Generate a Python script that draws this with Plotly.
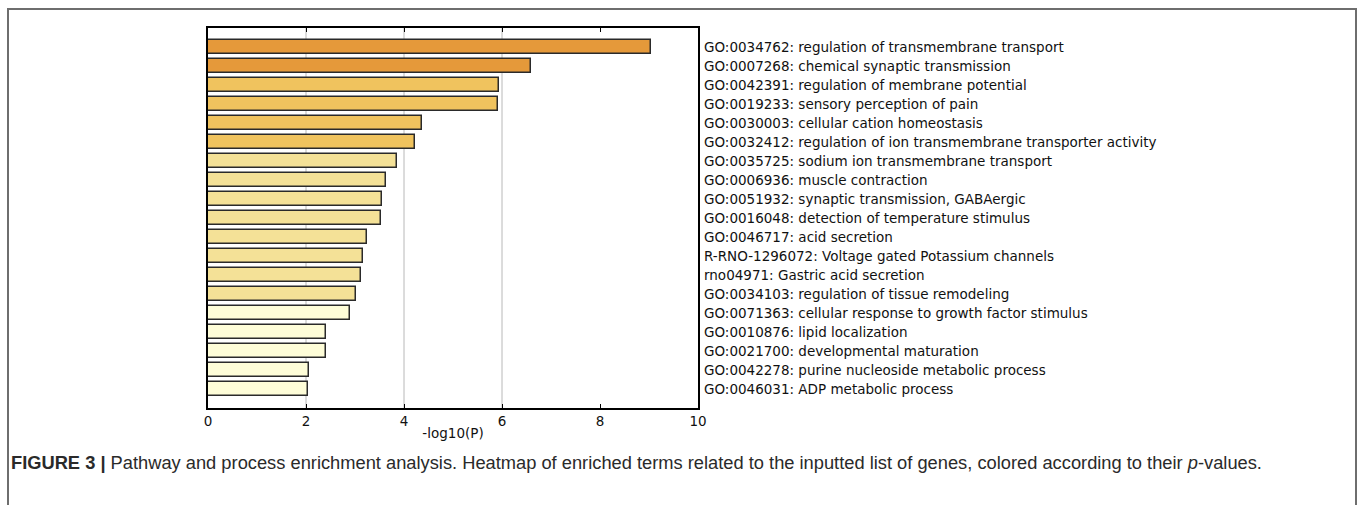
import plotly.graph_objects as go

terms = [
    "GO:0034762: regulation of transmembrane transport",
    "GO:0007268: chemical synaptic transmission",
    "GO:0042391: regulation of membrane potential",
    "GO:0019233: sensory perception of pain",
    "GO:0030003: cellular cation homeostasis",
    "GO:0032412: regulation of ion transmembrane transporter activity",
    "GO:0035725: sodium ion transmembrane transport",
    "GO:0006936: muscle contraction",
    "GO:0051932: synaptic transmission, GABAergic",
    "GO:0016048: detection of temperature stimulus",
    "GO:0046717: acid secretion",
    "R-RNO-1296072: Voltage gated Potassium channels",
    "rno04971: Gastric acid secretion",
    "GO:0034103: regulation of tissue remodeling",
    "GO:0071363: cellular response to growth factor stimulus",
    "GO:0010876: lipid localization",
    "GO:0021700: developmental maturation",
    "GO:0042278: purine nucleoside metabolic process",
    "GO:0046031: ADP metabolic process",
]
neg_log_p = [9.05, 6.59, 5.93, 5.92, 4.37, 4.23, 3.86, 3.63, 3.56, 3.54,
             3.25, 3.17, 3.13, 3.03, 2.89, 2.41, 2.40, 2.07, 2.05]
bar_colors = ["#E5993A"] * 2 + ["#F0C35E"] * 4 + ["#F4E197"] * 8 + ["#FEFDD8"] * 5
x_ticks = [0, 2, 4, 6, 8, 10]
grid_at = [2, 4, 6]
caption_bold = "FIGURE 3 |"
caption_text = " Pathway and process enrichment analysis. Heatmap of enriched terms related to the inputted list of genes, colored according to their <i>p</i>-values."

idx = list(range(len(terms)))

fig = go.Figure()
fig.add_trace(go.Bar(
    x=neg_log_p, y=idx, orientation="h", width=0.78,
    marker=dict(color=bar_colors, line=dict(color="#2a2a2a", width=1.5)),
    showlegend=False, hoverinfo="x",
))

shapes = []
for g in grid_at:
    shapes.append(dict(type="line", xref="x", yref="paper", x0=g, x1=g, y0=0, y1=1,
                       line=dict(color="#b8b8b8", width=1), layer="below"))
# outer figure frame
L, R, T, B = 208, 698, 28, 408
def px(xp):
    return (xp - L) / (R - L)
def py(yp):
    return 1 - (yp - T) / (B - T)
shapes.append(dict(type="path", xref="paper", yref="paper",
                   path=f"M {px(8)},{py(506)} L {px(8)},{py(9)} L {px(1356)},{py(9)} L {px(1356)},{py(506)}",
                   line=dict(color="#6e6e6e", width=2)))

annotations = []
for i, t in enumerate(terms):
    annotations.append(dict(x=1, xref="paper", y=i, yref="y", text=t, showarrow=False,
                            xanchor="left", yanchor="middle", xshift=4,
                            font=dict(family="DejaVu Sans", size=13.5, color="#111")))
annotations.append(dict(x=px(9), xref="paper", y=py(462), yref="paper",
                        text=f"<b>{caption_bold}</b>{caption_text}", showarrow=False,
                        xanchor="left", yanchor="middle",
                        font=dict(family="Liberation Sans, Arial", size=18.3, color="#2a2a2a")))

fig.update_layout(
    width=1360, height=505,
    margin=dict(l=L, r=1360 - R, t=T, b=505 - B),
    paper_bgcolor="white", plot_bgcolor="white",
    bargap=0,
    shapes=shapes, annotations=annotations,
    xaxis=dict(range=[0, 10], tickvals=x_ticks, ticktext=[str(v) for v in x_ticks],
               showgrid=False, zeroline=False, showline=True, linecolor="black", linewidth=1.5,
               mirror="ticks", ticks="inside", ticklen=4, tickcolor="black",
               tickfont=dict(family="DejaVu Sans", size=13.5, color="#111"),
               title=dict(text="-log10(P)", standoff=1,
                          font=dict(family="DejaVu Sans", size=13.5, color="#111"))),
    yaxis=dict(range=[len(terms), -1], showticklabels=False, showgrid=False, zeroline=False,
               showline=True, linecolor="black", linewidth=1.5, mirror=True, ticks=""),
)

fig.write_html("out.html")
